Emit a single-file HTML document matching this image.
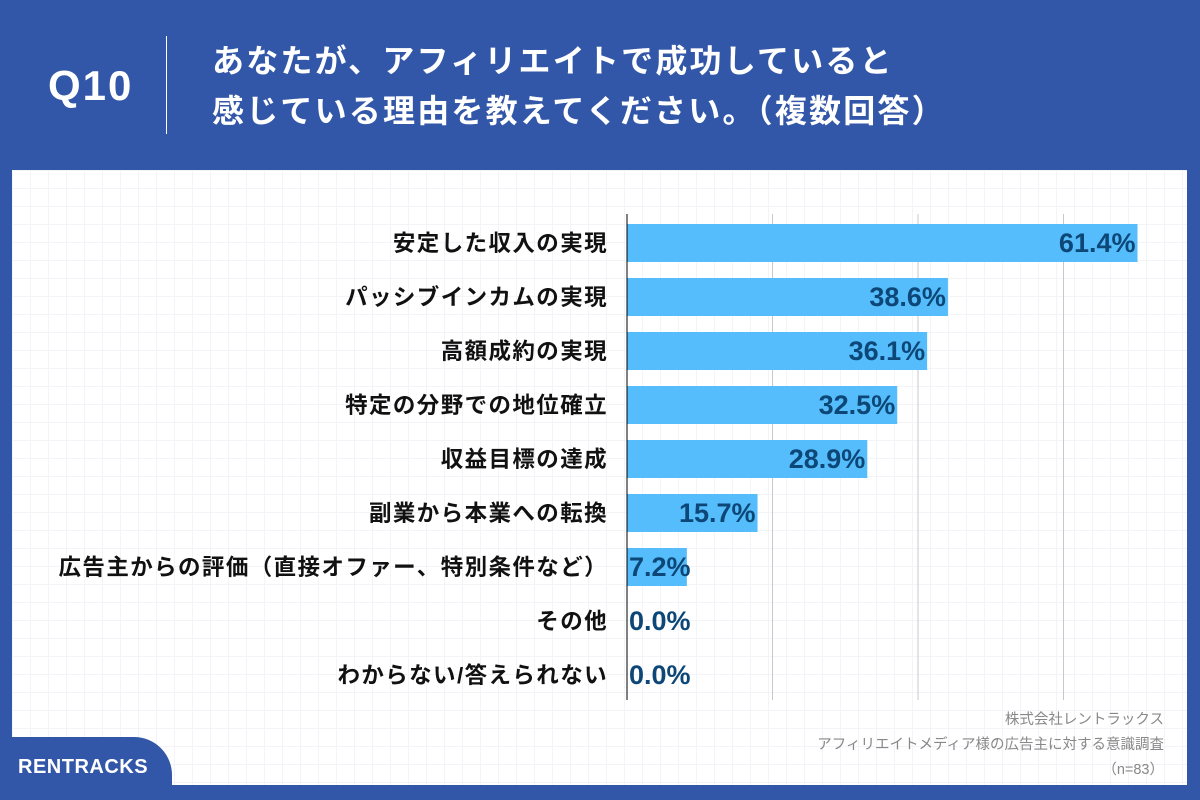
<!DOCTYPE html>
<html><head><meta charset="utf-8">
<style>
html,body{margin:0;padding:0;}
body{width:1200px;height:800px;background:#3357a8;position:relative;overflow:hidden;font-family:"Liberation Sans","Noto Sans CJK JP",sans-serif;}
#panel{position:absolute;left:12px;top:170px;width:1175px;height:615px;background:#fff;
background-image:linear-gradient(#f2f4f8 1px,transparent 1px),linear-gradient(90deg,#f2f4f8 1px,transparent 1px);background-size:18px 18px;}
#q{position:absolute;left:48px;top:62px;color:#fff;font-size:42px;font-weight:bold;letter-spacing:2px;}
#sep{position:absolute;left:166px;top:36px;width:1px;height:98px;background:#fff;}
#title{position:absolute;left:212px;top:36px;color:#fff;font-size:32px;font-weight:bold;line-height:50px;letter-spacing:2.2px;white-space:nowrap;}
#tab{position:absolute;left:0;top:737px;width:172px;height:48px;background:#3357a8;border-top-right-radius:38px;}
#logo{position:absolute;left:18px;top:756px;color:#fff;font-size:20px;font-weight:bold;letter-spacing:0.5px;}
#src{position:absolute;right:36px;top:708px;text-align:right;color:#888;font-size:14.5px;line-height:25px;}
svg{position:absolute;left:0;top:0;}
</style></head><body>
<div id="panel"></div>
<div id="q">Q10</div>
<div id="sep"></div>
<div id="title">あなたが、アフィリエイトで成功していると<br>感じている理由を教えてください。（複数回答）</div>
<div id="tab"></div>
<div id="logo">RENTRACKS</div>
<div id="src">株式会社レントラックス<br>アフィリエイトメディア様の広告主に対する意識調査<br>（n=83）</div>
<svg id="chart" width="1200" height="800"></svg>
<script>
const categories=["安定した収入の実現","パッシブインカムの実現","高額成約の実現","特定の分野での地位確立","収益目標の達成","副業から本業への転換","広告主からの評価（直接オファー、特別条件など）","その他","わからない/答えられない"];
const values=[61.4,38.6,36.1,32.5,28.9,15.7,7.2,0.0,0.0];
const gridTicks=[17.5,35,52.5];
const NS="http://www.w3.org/2000/svg";
const svg=document.getElementById('chart');
const x0=627,xMax=70,pxW=582;
const xs=v=>x0+v/xMax*pxW;
const rowTop=216,rowH=54;
const yc=i=>rowTop+rowH*i+rowH/2;
function mk(t,a){const e=document.createElementNS(NS,t);for(const k in a)e.setAttribute(k,a[k]);svg.appendChild(e);return e;}
gridTicks.forEach(t=>{
  const g=mk('line',{x1:xs(t),x2:xs(t),y1:214,y2:700,stroke:'#c8c8c8','stroke-width':1});
  
  
});
values.forEach((v,i)=>{
  const r=mk('rect',{x:x0,y:yc(i)-19,width:xs(v)-x0,height:38,fill:'#55bdfb'});
  
  
  const lab=mk('text',{x:608,y:yc(i)+8,'text-anchor':'end','font-size':22.5,'letter-spacing':1.4,'font-weight':'bold',fill:'#111'});
  lab.textContent=categories[i];
  
  
  const val=mk('text',{x:0,y:yc(i)+9,'font-size':27,'font-weight':'bold',fill:'#0d4777'});
  val.textContent=v.toFixed(1)+'%';
  
  
  const w=val.getComputedTextLength();
  val.setAttribute('x',Math.max(xs(v)-2-w,x0+2));
});
const ax=mk('line',{x1:x0,x2:x0,y1:214,y2:700,stroke:'#000','stroke-width':1});


</script>
</body></html>
